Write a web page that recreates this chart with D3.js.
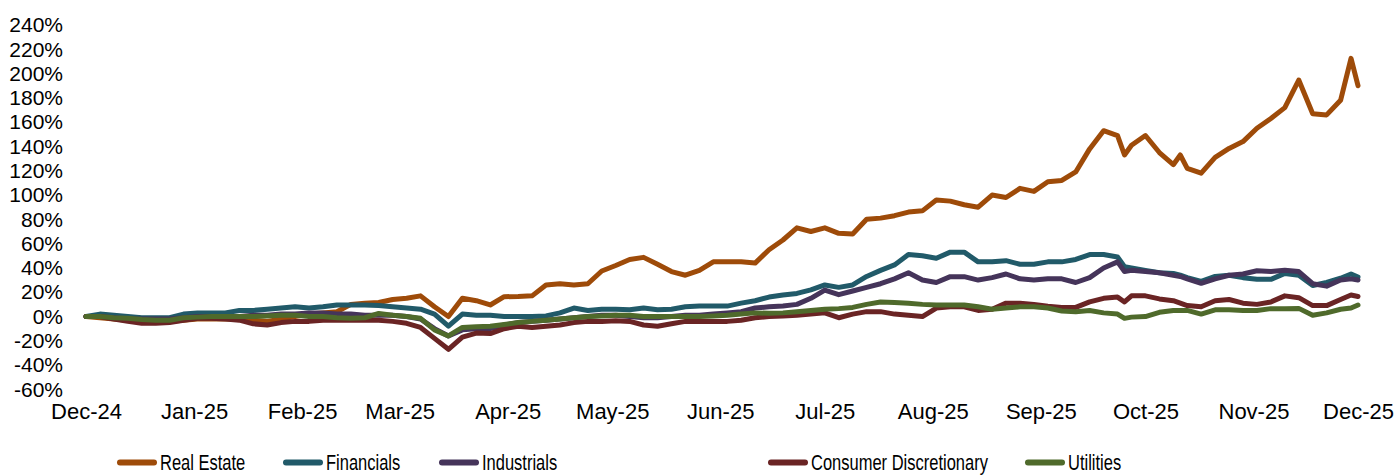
<!DOCTYPE html>
<html>
<head>
<meta charset="utf-8">
<script src="https://cdn.jsdelivr.net/npm/d3@7"></script>
<style>
  html, body { margin: 0; padding: 0; background: #fff; }
  svg { display: block; font-family: "Liberation Sans", Arial, sans-serif; }
</style>
</head>
<body>
<svg id="chart" width="1397" height="476"></svg>
<script>
const dates = [
  "2024-12-01","2024-12-05","2024-12-09","2024-12-13","2024-12-17","2024-12-21","2024-12-25","2024-12-29","2025-01-02","2025-01-06",
  "2025-01-10","2025-01-14","2025-01-18","2025-01-22","2025-01-26","2025-01-30","2025-02-03","2025-02-07","2025-02-11","2025-02-15",
  "2025-02-19","2025-02-23","2025-02-27","2025-03-03","2025-03-07","2025-03-11","2025-03-15","2025-03-19","2025-03-23","2025-03-27",
  "2025-03-31","2025-04-04","2025-04-08","2025-04-12","2025-04-16","2025-04-20","2025-04-24","2025-04-28","2025-05-02","2025-05-06",
  "2025-05-10","2025-05-14","2025-05-18","2025-05-22","2025-05-26","2025-05-30","2025-06-03","2025-06-07","2025-06-11","2025-06-15",
  "2025-06-19","2025-06-23","2025-06-27","2025-07-01","2025-07-05","2025-07-09","2025-07-13","2025-07-17","2025-07-21","2025-07-25",
  "2025-07-29","2025-08-02","2025-08-06","2025-08-10","2025-08-14","2025-08-18","2025-08-22","2025-08-26","2025-08-30","2025-09-03",
  "2025-09-07","2025-09-11","2025-09-15","2025-09-19","2025-09-23","2025-09-25","2025-09-27","2025-10-01","2025-10-05","2025-10-09",
  "2025-10-11","2025-10-13","2025-10-17","2025-10-21","2025-10-25","2025-10-29","2025-11-02","2025-11-06","2025-11-10","2025-11-14",
  "2025-11-18","2025-11-22","2025-11-26","2025-11-29","2025-12-01"
];

const realEstate = [
  0,-1,-2,-3,-4,-4,-4,-3,-2,-2,
  -2,-2,-3,-4,-2,0,2,3,4,10,
  11,11.5,14,15,17,8,0,15,13,9.5,
  16.3,16.5,17,26,27,26,27,37.5,42,47,
  48.7,43,37,34,38,45,45,45,44,55,
  63,73,70,73,68.5,68,80,81,83,86,
  87,96,95,92,90,100,98,105.5,103,111,
  112,119,138,153,149,133,141,149,135,125,
  133,122,118,131,138.4,144,155,163,172,194.7,
  167,166,178,212.5,190
];
const financials = [
  0,2,1,0,-1,-1,-1,2,3,3,
  3,5,5,6,7,8,7,8,9.5,9.5,
  9.5,9,8,7,6,2,-8,2,1,1,
  0,0,0,0.5,3,7,5,6,6,5.5,
  7,5.5,6,8,8.6,8.6,8.6,11,13,16,
  17.7,19,22,26,24,26,33,38,42.5,51,
  50,48,53,53,45,45,46,43,43,45,
  45,47,51,51,49,41,40,38,36,35.5,
  34,32,29,33,34,32,30.6,30.6,35.5,34,
  25.5,28,31.5,35,32.5
];
const industrials = [
  0,0,-1,-2,-2,-2,-2,-1,0,0,
  0,0,1,1,2,2,3,3,2,2,
  1,1,1,0,-2,-10,-16,-11,-10,-10,
  -7,-5,-4,-3,-2,-1,0,1,1,0,
  -1,-1,0,1,1,2,3,4,7,8,
  8.6,10,15,21.8,18,21,24,27,31,36,
  30,28,32.8,32.8,30,32,35,31,30,31,
  31,28,32,40,45,37,38,37,36,34,
  33,31,27.3,31,34,35,37.7,37,38,37,
  27,25,30,31,30
];
const consumerDisc = [
  0,0,-2,-4,-5.6,-5.6,-5,-3,-1.5,-1.5,
  -2,-3,-6,-7,-5,-4,-4,-3,-3,-3,
  -3,-3,-4,-5.6,-9,-18,-27,-17,-13.6,-14,
  -10,-8,-9,-8,-7,-5,-4,-4,-3.5,-4,
  -7,-8,-6,-4,-4,-4,-4,-3,-1,0,
  0.5,1,2,3,-1,2,4,4,2,1,
  0,7,8,8,5,6,11,11,10,8.5,
  7.5,7.5,12,15,16,12,17,17,14.5,13,
  11,9,8,13,14,11,10,12,17,15.5,
  9,9,14,17.7,16.5
];
const utilities = [
  0,0,-1,-1.5,-2.5,-3,-3,-1,-0.5,0,
  0,0,0,0.5,1,1,0,0,-1,-1.5,
  -1,2.5,1,0,-1.5,-11,-16,-9,-8.4,-8,
  -6.5,-5,-4,-3,-2,-1,0,0.5,1,1,
  0,0,0,0,0,0.5,1,2,3,2.6,
  3,4,5,6,6.5,7.5,10,12,11.5,11,
  10,9.5,9.5,9.5,8,6,7,8,8,7,
  4.5,4,5,3,2,-1.5,-0.5,0,3.5,5,
  5,5,2,5.5,5.5,5,5,6.5,6.5,6.7,
  1,3,6,7,9.5
];

const seriesNames = ["Real Estate","Financials","Industrials","Consumer Discretionary","Utilities"];
const seriesColors = ["#9E4B09","#215A69","#45345A","#6A2424","#4F6A2B"];
const seriesValues = [realEstate, financials, industrials, consumerDisc, utilities];

const tickDates = ["2024-12-01","2025-01-01","2025-02-01","2025-03-01","2025-04-01","2025-05-01","2025-06-01","2025-07-01","2025-08-01","2025-09-01","2025-10-01","2025-11-01","2025-12-01"];
const tickLabels = ["Dec-24","Jan-25","Feb-25","Mar-25","Apr-25","May-25","Jun-25","Jul-25","Aug-25","Sep-25","Oct-25","Nov-25","Dec-25"];
const yTicks = [-60,-40,-20,0,20,40,60,80,100,120,140,160,180,200,220,240];

const parse = d3.utcParse("%Y-%m-%d");
const svg = d3.select("#chart");

const x = d3.scaleUtc()
  .domain([parse("2024-12-01"), parse("2025-12-01")])
  .range([86, 1358]);
const y = d3.scaleLinear().domain([-60, 240]).range([389.4, 25]);

// Y axis
const yAxis = svg.append("g")
  .attr("transform", "translate(63,0)")
  .call(d3.axisLeft(y).tickValues(yTicks).tickFormat(d => d + "%").tickSize(0).tickPadding(0));
yAxis.select(".domain").remove();
yAxis.selectAll("text")
  .attr("font-family", "'Liberation Sans', Arial, sans-serif")
  .attr("font-size", 21)
  .attr("fill", "#000");

// X axis
const xAxis = svg.append("g")
  .attr("transform", "translate(0,403)")
  .call(d3.axisBottom(x).tickValues(tickDates.map(parse))
    .tickFormat((d, i) => tickLabels[i]).tickSize(0).tickPadding(0));
xAxis.select(".domain").remove();
xAxis.selectAll("text")
  .attr("font-family", "'Liberation Sans', Arial, sans-serif")
  .attr("font-size", 22)
  .attr("fill", "#000");

// Lines
const line = d3.line()
  .x((d, i) => x(parse(dates[i])))
  .y(d => y(d));

seriesValues.forEach((vals, k) => {
  svg.append("path")
    .datum(vals)
    .attr("d", line)
    .attr("fill", "none")
    .attr("stroke", seriesColors[k])
    .attr("stroke-width", 5)
    .attr("stroke-linejoin", "round")
    .attr("stroke-linecap", "round");
});

// Legend
const legendX = [117, 283, 439, 768, 1025];
const legend = svg.append("g");
seriesNames.forEach((name, k) => {
  const g = legend.append("g").attr("transform", `translate(${legendX[k]},0)`);
  g.append("line")
    .attr("x1", 3).attr("x2", 37)
    .attr("y1", 462.5).attr("y2", 462.5)
    .attr("stroke", seriesColors[k])
    .attr("stroke-width", 6)
    .attr("stroke-linecap", "round");
  g.append("text")
    .attr("transform", "translate(43,469.5) scale(0.75,1)")
    .attr("font-size", 22)
    .attr("fill", "#000")
    .text(name);
});
</script>
</body>
</html>
